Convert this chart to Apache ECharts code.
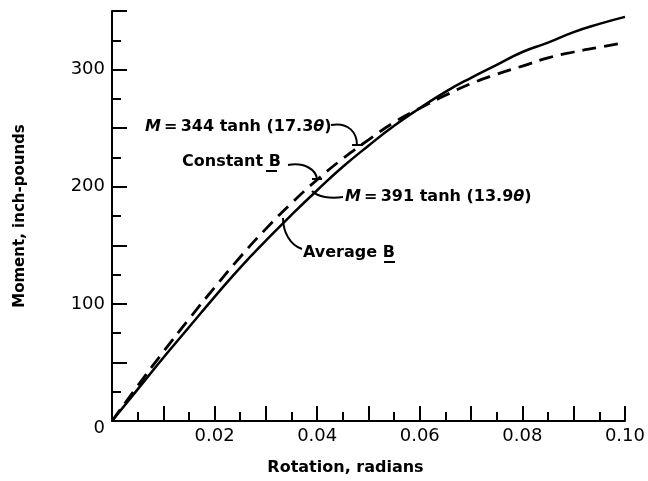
<!DOCTYPE html>
<html>
<head>
<meta charset="UTF-8">
<title>Moment vs rotation</title>
<script src="https://cdn.jsdelivr.net/npm/echarts@6/dist/echarts.min.js"></script>
<style>
  html, body { margin: 0; padding: 0; background: #fff; }
  #chart { width: 648px; height: 481px; }
</style>
</head>
<body>
<div id="chart"></div>
<script>
// rotation (radians)
const rotation = [0, 0.005, 0.01, 0.015, 0.02, 0.025, 0.03, 0.035, 0.04, 0.045, 0.05,
                  0.055, 0.06, 0.065, 0.07, 0.075, 0.08, 0.085, 0.09, 0.095, 0.10];
// Average B : M = 391 tanh(13.9 θ)  (solid)
const averageB = [0, 27, 54, 80, 106, 131, 154, 176, 197, 217, 235,
                  252, 267, 281, 293, 304, 315, 323, 332, 339, 345];
// Constant B : M = 344 tanh(17.3 θ)  (dashed)
const constantB = [0, 30, 59, 87, 114, 140, 164, 186, 206, 224, 240,
                   255, 267, 278, 288, 296, 303, 310, 315, 319, 323];

const xLabels = ['0.02', '0.04', '0.06', '0.08', '0.10'];
const yLabels = ['100', '200', '300'];

const FONT = 'DejaVu Sans';
const chart = echarts.init(document.getElementById('chart'));

const annot = (x, y, text) => ({
  type: 'text', x: x, y: y,
  style: {
    text: text, fill: '#000', fontFamily: FONT, fontWeight: 'bold', fontSize: 16,
    align: 'left', verticalAlign: 'middle',
    rich: {
      m: { fontStyle: 'italic', fontWeight: 'bold', fontSize: 16, fontFamily: FONT, fill: '#000' },
      t: { fontStyle: 'italic', fontWeight: 'bold', fontSize: 16, fontFamily: FONT, fill: '#000' }
    }
  }
});
const leader = (s) => ({ type: 'bezierCurve', shape: s, style: { stroke: '#000', lineWidth: 2, fill: null } });
const seg = (x1, y1, x2, y2) => ({ type: 'line', shape: { x1, y1, x2, y2 }, style: { stroke: '#000', lineWidth: 2 } });

chart.setOption({
  backgroundColor: '#fff',
  animation: false,
  grid: { left: 112, right: 21, top: 11, bottom: 59 },
  xAxis: {
    type: 'value', min: 0, max: 0.1, interval: 0.01,
    name: 'Rotation, radians', nameLocation: 'middle', nameGap: 39,
    nameTextStyle: { fontFamily: FONT, fontWeight: 'bold', fontSize: 16, color: '#000', padding: [0, 46, 0, 0] },
    axisLine: { lineStyle: { color: '#000', width: 2 } },
    axisTick: { inside: true, length: 15, lineStyle: { color: '#000', width: 2 } },
    minorTick: { show: true, splitNumber: 2, length: 9, lineStyle: { color: '#000', width: 2 } },
    splitLine: { show: false },
    axisLabel: {
      color: '#000', fontFamily: FONT, fontSize: 18, margin: 6,
      formatter: v => { const s = v.toFixed(2); return xLabels.includes(s) ? s : ''; }
    }
  },
  yAxis: {
    type: 'value', min: 0, max: 350, interval: 50,
    name: 'Moment, inch-pounds', nameLocation: 'middle', nameGap: 84,
    nameTextStyle: { fontFamily: FONT, fontWeight: 'bold', fontSize: 15, color: '#000' },
    axisLine: { show: true, lineStyle: { color: '#000', width: 2 } },
    axisTick: { show: true, inside: true, length: 15, lineStyle: { color: '#000', width: 2 } },
    minorTick: { show: true, splitNumber: 2, length: 9, lineStyle: { color: '#000', width: 2 } },
    splitLine: { show: false },
    axisLabel: {
      color: '#000', fontFamily: FONT, fontSize: 18, margin: 7,
      formatter: v => {
        const s = String(v);
        if (s === '0') return '{z|0}';
        return yLabels.includes(s) ? s : '';
      },
      rich: { z: { fontFamily: FONT, fontSize: 18, color: '#000', padding: [14, 0, 0, 0] } }
    }
  },
  series: [
    {
      name: 'Average B', type: 'line', smooth: true, symbol: 'none',
      data: rotation.map((x, i) => [x, averageB[i]]),
      lineStyle: { color: '#000', width: 2.5 }
    },
    {
      name: 'Constant B', type: 'line', smooth: true, symbol: 'none',
      data: rotation.map((x, i) => [x, constantB[i]]),
      lineStyle: { color: '#000', width: 2.8, type: [14, 8] }
    }
  ],
  graphic: [
    annot(145, 127, '{m|M}\u2009=\u2009344 tanh (17.3{t|θ})'),
    leader({ x1: 331, y1: 125, cpx1: 349, cpy1: 122, cpx2: 357, cpy2: 133, x2: 357, y2: 145 }),
    seg(352, 145, 363, 145),

    annot(182, 162, 'Constant B'),
    seg(266, 171, 277, 171),
    leader({ x1: 288, y1: 165, cpx1: 305, cpy1: 162, cpx2: 316, cpy2: 170, x2: 317, y2: 179 }),
    seg(312, 179, 322, 179),

    annot(345, 197, '{m|M}\u2009=\u2009391 tanh (13.9{t|θ})'),
    leader({ x1: 343, y1: 197, cpx1: 330, cpy1: 199, cpx2: 318, cpy2: 197, x2: 312, y2: 191 }),

    annot(303, 253, 'Average B'),
    seg(384, 262, 395, 262),
    leader({ x1: 302, y1: 249, cpx1: 290, cpy1: 245, cpx2: 283, cpy2: 232, x2: 283, y2: 218 })
  ]
});
</script>
</body>
</html>
